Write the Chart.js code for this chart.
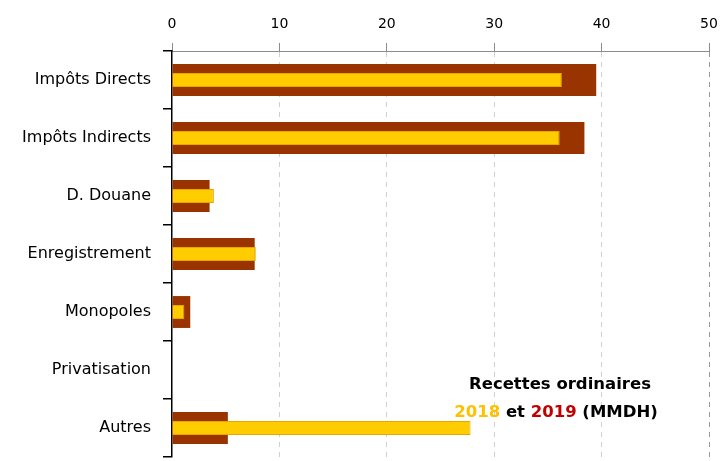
<!DOCTYPE html>
<html>
<head>
<meta charset="utf-8">
<script src="https://cdn.jsdelivr.net/npm/chart.js@4.4.1/dist/chart.umd.min.js"></script>
<style>
    html, body { margin: 0; padding: 0; background: #fff; }
    #wrap { width: 721px; height: 461px; }
</style>
</head>
<body>
<div id="wrap"><canvas id="chart" width="721" height="461"></canvas></div>
<script>
// Données (MMDH)
const categories = ['Impôts Directs', 'Impôts Indirects', 'D. Douane', 'Enregistrement', 'Monopoles', 'Privatisation', 'Autres'];
const values2018 = [36.3, 36.1, 3.9, 7.8, 1.15, 0, 27.8];
const values2019 = [39.5, 38.4, 3.5, 7.7, 1.7, 0, 5.2];
const xTicks = [0, 10, 20, 30, 40, 50];

// Titre dessiné dans la zone du graphique
const titlePlugin = {
    id: 'titreRecettes',
    afterDraw(chart) {
        const ctx = chart.ctx;
        ctx.save();
        ctx.font = 'bold 16.5px "DejaVu Sans"';
        ctx.textBaseline = 'middle';
        ctx.textAlign = 'center';
        ctx.fillStyle = '#000';
        ctx.fillText('Recettes ordinaires', 560, 385);

        const parts = [
            { text: '2018', color: '#FFC000' },
            { text: ' et ', color: '#000' },
            { text: '2019', color: '#C00000' },
            { text: ' (MMDH)', color: '#000' }
        ];
        const total = parts.reduce((s, p) => s + ctx.measureText(p.text).width, 0);
        let x = 556 - total / 2;
        ctx.textAlign = 'left';
        parts.forEach(p => {
            ctx.fillStyle = p.color;
            ctx.fillText(p.text, x, 413);
            x += ctx.measureText(p.text).width;
        });
        ctx.restore();
    }
};

const ctx = document.getElementById('chart').getContext('2d');
new Chart(ctx, {
    type: 'bar',
    data: {
        labels: categories,
        datasets: [
            {
                label: '2018',
                data: values2018,
                backgroundColor: '#FFCC00',
                borderColor: '#E8A600',
                borderWidth: 1,
                barPercentage: 0.24,
                categoryPercentage: 1,
                order: 1
            },
            {
                label: '2019',
                data: values2019,
                backgroundColor: '#993300',
                borderWidth: 0,
                barPercentage: 0.55,
                categoryPercentage: 1,
                order: 2
            }
        ]
    },
    options: {
        indexAxis: 'y',
        responsive: false,
        animation: false,
        layout: { padding: { right: 12, bottom: 4 } },
        plugins: {
            legend: { display: false },
            tooltip: { enabled: false }
        },
        datasets: { bar: { grouped: false } },
        scales: {
            x: {
                position: 'top',
                min: 0,
                max: 50,
                afterBuildTicks: (scale) => {
                    scale.ticks = xTicks.map(v => ({ value: v }));
                },
                afterFit: (scale) => {
                    scale.height = 51;
                    scale.paddingLeft = 0;
                    scale.paddingRight = 0;
                },
                ticks: {
                    color: '#000',
                    font: { family: 'DejaVu Sans', size: 14 },
                    padding: 10,
                    maxRotation: 0
                },
                grid: {
                    color: (c) => c.index === 0 ? 'rgba(0,0,0,0)' : (c.index === 5 ? '#9a9a9a' : '#cfcfcf'),
                    tickColor: '#8c8c8c',
                    tickBorderDash: [1, 0],
                    tickLength: 8
                },
                border: { color: '#8c8c8c', width: 1, dash: [5, 5] }
            },
            y: {
                afterFit: (scale) => {
                    scale.width = 172;
                    scale.paddingTop = 0;
                    scale.paddingBottom = 0;
                },
                ticks: {
                    color: '#000',
                    font: { family: 'DejaVu Sans', size: 16 },
                    padding: 12
                },
                grid: {
                    offset: true,
                    drawOnChartArea: false,
                    color: '#000',
                    tickLength: 9,
                    lineWidth: 1.5
                },
                border: { color: '#000', width: 1.5 }
            }
        }
    },
    plugins: [titlePlugin]
});
</script>
</body>
</html>
